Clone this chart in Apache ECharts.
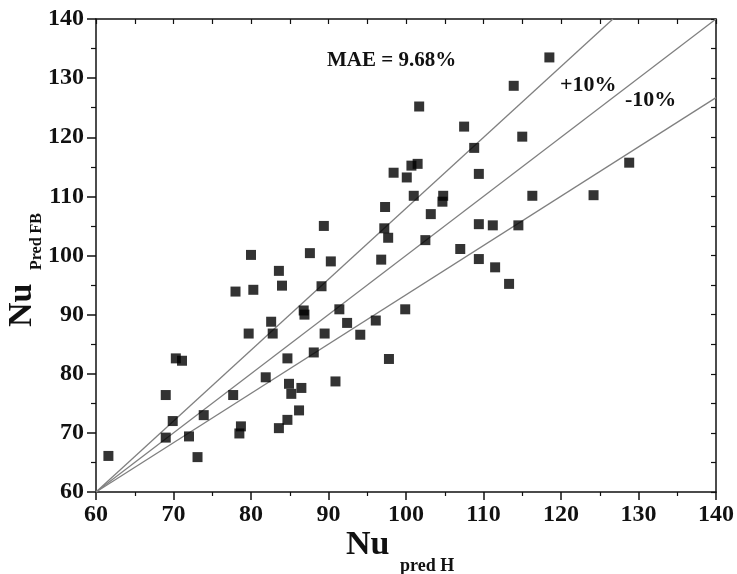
<!DOCTYPE html>
<html>
<head>
<meta charset="utf-8">
<script src="https://cdn.jsdelivr.net/npm/echarts@6/dist/echarts.min.js"></script>
<style>
  html, body { margin: 0; padding: 0; background: #fff; }
  #chart { width: 737px; height: 574px; }
</style>
</head>
<body>
<div id="chart"></div>
<script>
// Nu pred H (x) vs Nu Pred FB (y)
var nuPredH = [61.6, 69.0, 69.0, 69.9, 70.3, 71.1, 72.0, 73.1, 73.9, 77.7,
  78.0, 78.5, 78.7, 79.7, 80.3, 81.9, 82.6, 82.8, 83.6, 84.0,
  84.7, 84.9, 84.7, 85.2, 86.2, 86.5, 86.8, 86.9, 88.1, 89.1,
  89.5, 90.9, 91.4, 92.4, 94.1, 80.0, 83.6, 87.6, 89.4, 90.3,
  118.5, 113.9, 101.7, 107.5, 115.0, 108.8, 98.4, 100.1, 100.7, 101.5,
  109.4, 128.8, 101.0, 104.8, 104.7, 116.3, 124.2, 97.3, 103.2, 97.2,
  97.7, 102.5, 109.4, 111.2, 114.5, 96.8, 107.0, 109.4, 111.5, 113.3,
  99.9, 96.1, 97.8];
var nuPredFB = [66.1, 76.4, 69.2, 72.0, 82.6, 82.2, 69.4, 65.9, 73.0, 76.4,
  93.9, 69.9, 71.1, 86.8, 94.2, 79.4, 88.8, 86.8, 70.8, 94.9,
  82.6, 78.3, 72.2, 76.6, 73.8, 77.6, 90.7, 90.0, 83.6, 94.8,
  86.8, 78.7, 90.9, 88.6, 86.6, 100.1, 97.4, 100.4, 105.0, 99.0,
  133.5, 128.7, 125.2, 121.8, 120.1, 118.2, 114.0, 113.2, 115.2, 115.5,
  113.8, 115.7, 110.1, 110.1, 109.1, 110.1, 110.2, 108.2, 107.0, 104.6,
  103.0, 102.6, 105.3, 105.1, 105.1, 99.3, 101.1, 99.4, 98.0, 95.2,
  90.9, 89.0, 82.5];

// reference lines (start and end points)
var lineEqual = [[60, 60], [140, 140]];
var linePlus10 = [[60, 60], [126.7, 140]];
var lineMinus10 = [[60, 60], [140, 126.7]];

var axisMin = 60, axisMax = 140, axisStep = 10;

var points = nuPredH.map(function (x, i) { return [x, nuPredFB[i]]; });

var font = '"Liberation Serif", "Times New Roman", serif';
var lineColor = '#808080';

function mainAxis(pos, tickLen, minorLen) {
  return {
    type: 'value', position: pos,
    min: axisMin, max: axisMax, interval: axisStep,
    axisLine: { show: true, onZero: false, lineStyle: { color: '#111', width: 1.5 } },
    axisTick: { show: true, inside: false, length: tickLen, lineStyle: { color: '#111', width: 1.5 } },
    minorTick: { show: true, splitNumber: 2, length: minorLen, lineStyle: { color: '#111', width: 1.2 } },
    axisLabel: { color: '#111', fontFamily: font, fontWeight: 'bold', fontSize: 24, margin: pos === 'left' ? 12 : 11 },
    splitLine: { show: false }
  };
}
function mirrorAxis(pos) {
  return {
    type: 'value', position: pos,
    min: axisMin, max: axisMax, interval: axisStep,
    axisLine: { show: true, onZero: false, lineStyle: { color: '#111', width: 1.5 } },
    axisTick: { show: true, inside: true, length: 5, lineStyle: { color: '#111', width: 1.2 } },
    minorTick: { show: true, splitNumber: 2, length: 5, lineStyle: { color: '#111', width: 1.2 } },
    axisLabel: { show: false },
    splitLine: { show: false }
  };
}

function refLine(data) {
  return {
    type: 'line', data: data, symbol: 'none', silent: true,
    lineStyle: { color: lineColor, width: 1.3 }, z: 1
  };
}

var chart = echarts.init(document.getElementById('chart'));
chart.setOption({
  animation: false,
  backgroundColor: '#fff',
  grid: { left: 96, right: 18, top: 19, bottom: 82 },
  xAxis: [mainAxis('bottom', 8, 4), mirrorAxis('top')],
  yAxis: [mainAxis('left', 9, 5), mirrorAxis('right')],
  series: [
    refLine(lineEqual),
    refLine(linePlus10),
    refLine(lineMinus10),
    {
      type: 'scatter', data: points, symbol: 'rect', symbolSize: 10,
      itemStyle: { color: '#000' }, z: 3
    }
  ],
  graphic: [
    { type: 'text', left: 327, top: 50, style: { text: 'MAE = 9.68%', font: 'bold 21px ' + font, fill: '#111' } },
    { type: 'text', left: 560, top: 74, style: { text: '+10%', font: 'bold 22px ' + font, fill: '#111' } },
    { type: 'text', left: 625, top: 89, style: { text: '-10%', font: 'bold 22px ' + font, fill: '#111' } },
    // x axis title
    { type: 'text', left: 346, top: 528, style: { text: 'Nu', font: 'bold 34px ' + font, fill: '#111' } },
    { type: 'text', left: 400, top: 557, style: { text: 'pred H', font: 'bold 18px ' + font, fill: '#111' } },
    // y axis title (rotated)
    { type: 'text', x: 5, y: 327, rotation: Math.PI / 2, style: { text: 'Nu', font: 'bold 34px ' + font, fill: '#111' } },
    { type: 'text', x: 29, y: 270, rotation: Math.PI / 2, style: { text: 'Pred FB', font: 'bold 16px ' + font, fill: '#111' } }
  ]
});
</script>
</body>
</html>
